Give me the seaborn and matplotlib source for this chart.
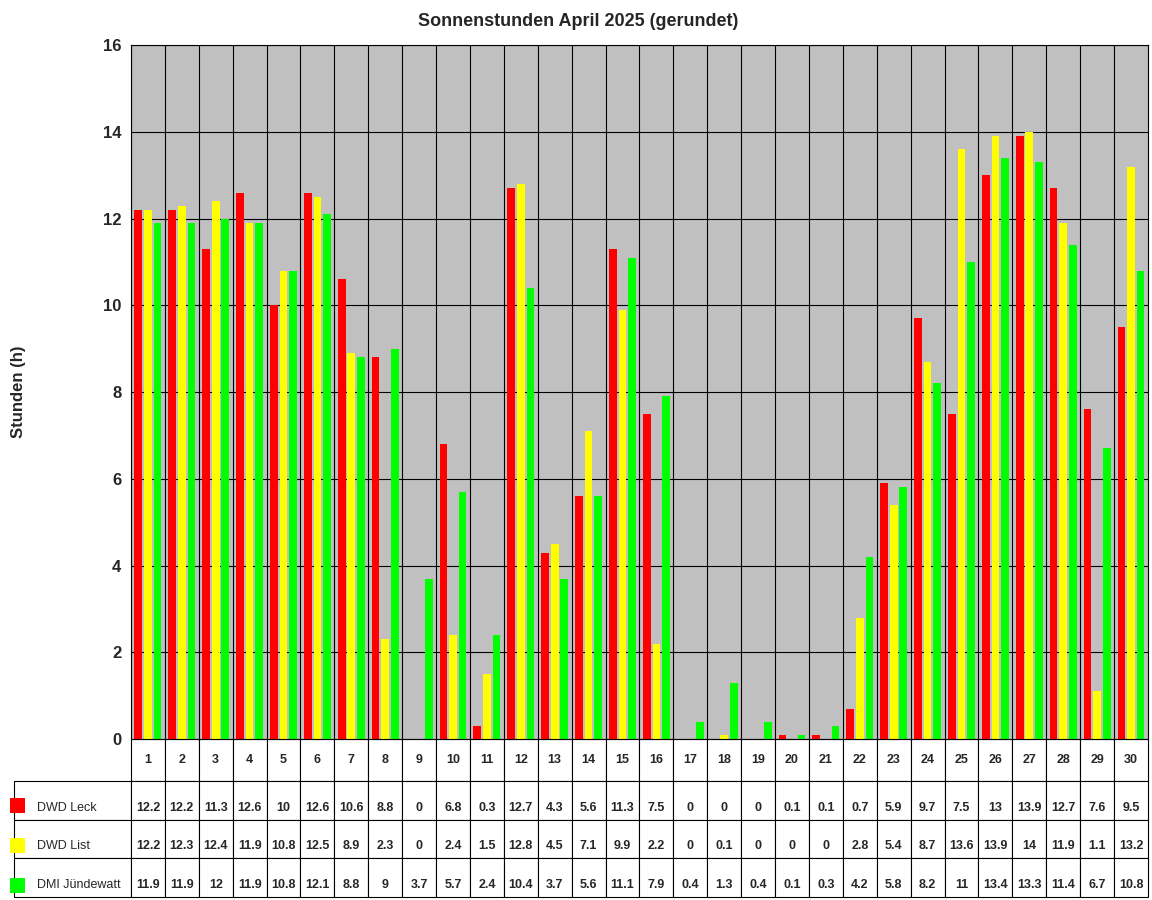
import matplotlib
matplotlib.use("Agg")
import matplotlib.pyplot as plt
from matplotlib.patches import Rectangle
import seaborn as sns
import pandas as pd

days = [str(d) for d in range(1, 31)]
leck = [12.2, 12.2, 11.3, 12.6, 10, 12.6, 10.6, 8.8, 0, 6.8, 0.3, 12.7, 4.3, 5.6, 11.3,
        7.5, 0, 0, 0, 0.1, 0.1, 0.7, 5.9, 9.7, 7.5, 13, 13.9, 12.7, 7.6, 9.5]
lst = [12.2, 12.3, 12.4, 11.9, 10.8, 12.5, 8.9, 2.3, 0, 2.4, 1.5, 12.8, 4.5, 7.1, 9.9,
       2.2, 0, 0.1, 0, 0, 0, 2.8, 5.4, 8.7, 13.6, 13.9, 14, 11.9, 1.1, 13.2]
dmi = [11.9, 11.9, 12, 11.9, 10.8, 12.1, 8.8, 9, 3.7, 5.7, 2.4, 10.4, 3.7, 5.6, 11.1,
       7.9, 0.4, 1.3, 0.4, 0.1, 0.3, 4.2, 5.8, 8.2, 11, 13.4, 13.3, 11.4, 6.7, 10.8]
series = ["DWD Leck", "DWD List", "DMI Jündewatt"]
colors = ["#FF0000", "#FFFF00", "#00FF00"]

df = pd.DataFrame({
    "Tag": days * 3,
    "Stunden": leck + lst + dmi,
    "Station": [s for s in series for _ in days],
})

sns.set_style("white")
plt.rcParams["font.family"] = ["Liberation Sans", "DejaVu Sans"]

fig = plt.figure(figsize=(11.52, 9), dpi=100)
ax = fig.add_axes([0.1137, 0.1789, 0.8828, 0.771])
ax.set_facecolor("#C0C0C0")
sns.barplot(data=df, x="Tag", y="Stunden", hue="Station", palette=colors,
            width=0.85, linewidth=0, saturation=1, ax=ax, legend=False)
# shrink bars a bit so they don't touch
for p in ax.patches:
    w = p.get_width()
    p.set_x(p.get_x() + w * 0.1)
    p.set_width(w * 0.8)

ax.set_ylim(0, 16)
ax.set_xlim(-0.5, 29.5)
ax.set_yticks(range(0, 17, 2))
ax.set_yticklabels([str(v) for v in range(0, 17, 2)], fontsize=12, fontweight="bold")
ax.set_xticks([])
ax.set_xlabel("")
ax.set_ylabel("Stunden (h)", fontsize=12, fontweight="bold", labelpad=55)
for y in range(2, 17, 2):
    ax.axhline(y, color="black", lw=0.8, zorder=0)
for x in range(30):
    ax.axvline(x - 0.5, color="black", lw=0.8, zorder=0)
ax.set_axisbelow(True)
for s in ax.spines.values():
    s.set_color("black")
fig.suptitle("Sonnenstunden April 2025 (gerundet)", x=0.502, y=0.985,
             fontsize=13, fontweight="bold")

def fmt(v):
    return str(int(v)) if float(v).is_integer() else str(v)

cell = [["\n" + fmt(v) for v in row] for row in (leck, lst, dmi)]
tab = ax.table(cellText=cell, rowLabels=["\n" + s for s in series], colLabels=days,
               bbox=[0.0, -0.2277, 1.0, 0.2277], cellLoc="center", rowLoc="left")
tab.auto_set_font_size(False)
for (r, c), ce in tab.get_celld().items():
    ce.set_linewidth(0.8)
    ce.set_text_props(fontsize=9, fontweight="bold")
    if c == -1:
        ce.set_width(126 / 1017)
        ce.get_text().set_fontweight("normal")
        ce.PAD = 0.2
    if r == 0:
        ce.set_height(ce.get_height() * 1.1)

# colour squares in row labels
rows_y = [-0.107, -0.165, -0.222]
for yy, col in zip(rows_y, colors):
    ax.add_patch(Rectangle((-0.119, yy), 0.0145, 0.022, transform=ax.transAxes,
                           facecolor=col, edgecolor="none", clip_on=False))

fig.savefig("out.png", dpi=100)
